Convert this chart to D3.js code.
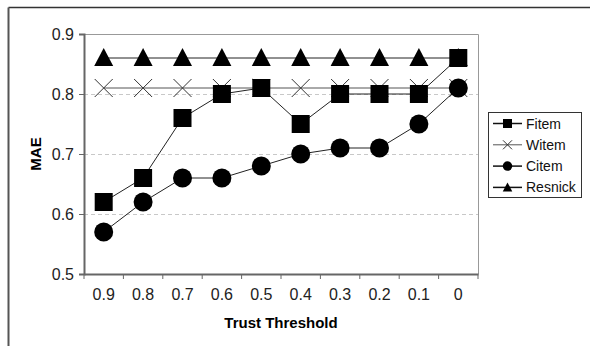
<!DOCTYPE html>
<html>
<head>
<meta charset="utf-8">
<script src="https://cdn.jsdelivr.net/npm/d3@7"></script>
<style>
  body { margin: 0; background: #fff; }
  svg { display: block; font-family: "Liberation Sans", Arial, sans-serif; }
</style>
</head>
<body>
<div id="chart"></div>
<script>
// data
const thresholds = ["0.9", "0.8", "0.7", "0.6", "0.5", "0.4", "0.3", "0.2", "0.1", "0"];
const fitem = [0.62, 0.66, 0.76, 0.80, 0.81, 0.75, 0.80, 0.80, 0.80, 0.86];
const witem = [0.81, 0.81, 0.81, 0.81, 0.81, 0.81, 0.81, 0.81, 0.81, 0.81];
const citem = [0.57, 0.62, 0.66, 0.66, 0.68, 0.70, 0.71, 0.71, 0.75, 0.81];
const resnick = [0.86, 0.86, 0.86, 0.86, 0.86, 0.86, 0.86, 0.86, 0.86, 0.86];
const yTicks = [0.5, 0.6, 0.7, 0.8, 0.9];

const series = [
  { name: "Fitem", values: fitem, symbol: "square" },
  { name: "Witem", values: witem, symbol: "cross" },
  { name: "Citem", values: citem, symbol: "circle" },
  { name: "Resnick", values: resnick, symbol: "triangle" }
];

const width = 590, height = 346;
const plot = { left: 84, top: 34, right: 478, bottom: 274 };

const svg = d3.select("#chart").append("svg")
  .attr("width", width).attr("height", height);

// outer frame (top and left visible)
svg.append("line").attr("x1", 8.5).attr("x2", 590).attr("y1", 7.5).attr("y2", 7.5)
  .attr("stroke", "#333").attr("stroke-width", 1.5);
svg.append("line").attr("x1", 8.5).attr("x2", 8.5).attr("y1", 7.5).attr("y2", 346)
  .attr("stroke", "#555").attr("stroke-width", 2);

const x = d3.scaleBand().domain(thresholds).range([plot.left, plot.right]);
const y = d3.scaleLinear().domain([0.5, 0.9]).range([plot.bottom, plot.top]);
const cx = (d, i) => x(thresholds[i]) + x.bandwidth() / 2;

// gridlines
svg.append("g").selectAll("line")
  .data(yTicks.filter(t => t > 0.5 && t < 0.9))
  .join("line")
  .attr("x1", plot.left).attr("x2", plot.right)
  .attr("y1", d => Math.round(y(d)) + 0.5).attr("y2", d => Math.round(y(d)) + 0.5)
  .attr("stroke", "#c8c8c8").attr("stroke-dasharray", "4,3");

// plot border top/right
svg.append("path")
  .attr("d", `M${plot.left},${plot.top + 0.5}H${plot.right + 0.5}V${plot.bottom}`)
  .attr("fill", "none").attr("stroke", "#999").attr("stroke-width", 1);

// axes
const yAxis = d3.axisLeft(y).tickValues(yTicks).tickFormat(d3.format(".1f")).tickSize(5).tickPadding(5);
const gy = svg.append("g").attr("transform", `translate(${plot.left},0)`).call(yAxis);
gy.select(".domain").attr("stroke", "#666").attr("stroke-width", 2);
gy.selectAll(".tick line").attr("stroke", "#666");
gy.selectAll("text").attr("font-size", 16).attr("fill", "#222")
  .style("font-family", "'Liberation Sans', Arial, sans-serif");

const xAxis = d3.axisBottom(x).tickSize(0).tickPadding(15);
const gx = svg.append("g").attr("transform", `translate(0,${plot.bottom})`).call(xAxis);
gx.select(".domain").attr("stroke", "#666").attr("stroke-width", 2);
gx.selectAll("text").attr("font-size", 16).attr("fill", "#222")
  .style("font-family", "'Liberation Sans', Arial, sans-serif");
// boundary ticks between categories
svg.append("g").selectAll("line")
  .data(thresholds.concat(["end"]))
  .join("line")
  .attr("x1", (d, i) => plot.left + i * x.step())
  .attr("x2", (d, i) => plot.left + i * x.step())
  .attr("y1", plot.bottom).attr("y2", plot.bottom + 5)
  .attr("stroke", "#666");

// axis titles
svg.append("text").attr("x", (plot.left + plot.right) / 2).attr("y", 328)
  .attr("text-anchor", "middle").attr("font-size", 15).attr("font-weight", "bold")
  .text("Trust Threshold");
svg.append("text").attr("transform", `translate(41,${(plot.top + plot.bottom) / 2}) rotate(-90)`)
  .attr("text-anchor", "middle").attr("font-size", 15).attr("font-weight", "bold")
  .text("MAE");

// marker drawing
function drawMarker(g, type, px, py, scale) {
  const s = scale || 1;
  if (type === "square") {
    g.append("rect").attr("x", px - 9 * s).attr("y", py - 9 * s)
      .attr("width", 18 * s).attr("height", 18 * s).attr("fill", "#000");
  } else if (type === "circle") {
    g.append("circle").attr("cx", px).attr("cy", py).attr("r", 9.5 * s).attr("fill", "#000");
  } else if (type === "triangle") {
    g.append("path")
      .attr("d", `M${px},${py - 10 * s}L${px + 9.5 * s},${py + 8 * s}L${px - 9.5 * s},${py + 8 * s}Z`)
      .attr("fill", "#000");
  } else if (type === "cross") {
    const r = 9 * s;
    g.append("path")
      .attr("d", `M${px - r},${py - r}L${px + r},${py + r}M${px - r},${py + r}L${px + r},${py - r}`)
      .attr("stroke", "#333").attr("stroke-width", 1).attr("fill", "none");
  }
}

const line = d3.line().x(cx).y(d => y(d));

// back-to-front: Resnick, Witem, Fitem, Citem
const order = ["Resnick", "Witem", "Fitem", "Citem"];
order.forEach(name => {
  const s = series.find(d => d.name === name);
  const g = svg.append("g");
  g.append("path").datum(s.values).attr("d", line)
    .attr("fill", "none").attr("stroke", name === "Witem" ? "#555" : "#222").attr("stroke-width", 1);
  s.values.forEach((v, i) => drawMarker(g, s.symbol, cx(v, i), y(v)));
});

// legend
const legend = svg.append("g").attr("transform", "translate(488,112)");
legend.append("rect").attr("x", 0.5).attr("y", 0.5).attr("width", 93).attr("height", 85)
  .attr("fill", "#fff").attr("stroke", "#333");
series.forEach((s, i) => {
  const ly = 11.5 + i * 21.3;
  const g = legend.append("g");
  g.append("line").attr("x1", 5).attr("x2", 34).attr("y1", ly).attr("y2", ly)
    .attr("stroke", s.name === "Witem" ? "#555" : "#111").attr("stroke-width", s.name === "Witem" ? 1 : 1.5);
  drawMarker(g, s.symbol, 19.5, ly, 0.5);
  g.append("text").attr("x", 38).attr("y", ly + 5).attr("font-size", 14).attr("fill", "#111").text(s.name);
});
</script>
</body>
</html>
